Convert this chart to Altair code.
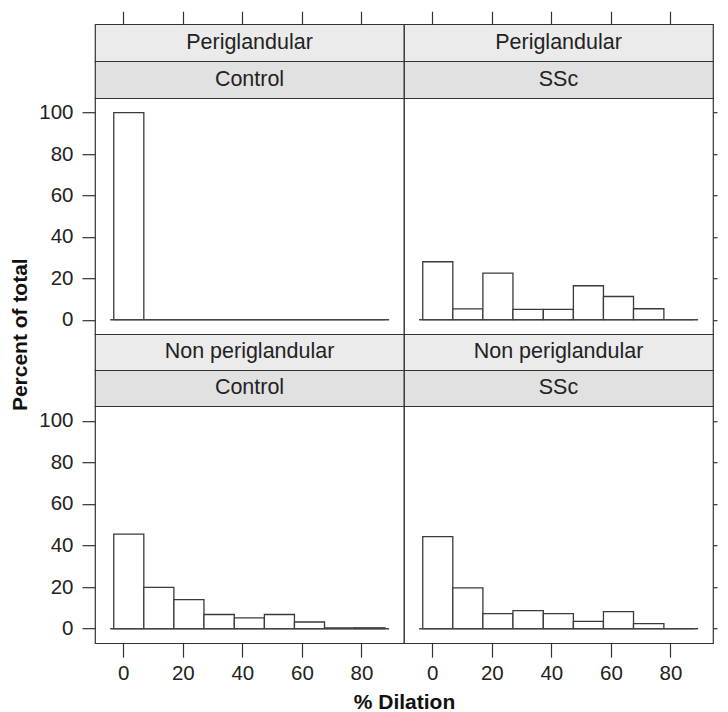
import altair as alt
import pandas as pd

# ---- data ----
row_labels = ["Periglandular", "Non periglandular"]
col_labels = ["Control", "SSc"]
breaks = [-3.2, 6.9, 17.0, 27.1, 37.3, 47.4, 57.5, 67.6, 77.8, 87.9]
pct_peri_control = [100.0, 0, 0, 0, 0, 0, 0, 0, 0]
pct_peri_ssc = [28.0, 5.2, 22.5, 5.0, 5.0, 16.4, 11.2, 5.3, 0]
pct_non_control = [45.5, 19.8, 14.0, 6.8, 5.2, 6.8, 3.2, 0.4, 0.4]
pct_non_ssc = [44.3, 19.6, 7.2, 8.7, 7.2, 3.5, 8.2, 2.4, 0]
baseline_span = [-4.4, 89.3]
x_ticks = [0, 20, 40, 60, 80]
y_ticks = [0, 20, 40, 60, 80, 100]
x_domain = [-9.5, 94.3]
y_domain = [-7, 107]
x_title = "% Dilation"
y_title = "Percent of total"

panel_values = [[pct_peri_control, pct_peri_ssc], [pct_non_control, pct_non_ssc]]

# ---- styling ----
FONT = "Liberation Sans"
FS = 20.5
SFS = 21.5
TFS = 21
W = 309
STRIP_H = [[37, 37], [36, 36]]
PLOT_H = [236, 237]
FRAME = "#333333"
STRIP_FILLS = ["#ebebeb", "#e1e1e1"]

xs = alt.Scale(domain=x_domain, nice=False, zero=False)
ys = alt.Scale(domain=y_domain, nice=False, zero=False)
EXT = dict(minExtent=0, maxExtent=200, offset=0)


def strip(label, fill, h, top_axis):
    df = pd.DataFrame({"label": [label], "mid": [(x_domain[0] + x_domain[1]) / 2]})
    if top_axis:
        x = alt.X("mid:Q", scale=xs, title=None,
                  axis=alt.Axis(orient="top", values=x_ticks, labels=False,
                                tickSize=13, domain=False, grid=False, **EXT))
    else:
        x = alt.value(W / 2)
    return alt.Chart(df).mark_text(font=FONT, fontSize=SFS, color="#222222").encode(
        x=x, y=alt.value(h / 2), text="label:N"
    ).properties(width=W, height=h,
                 view=alt.ViewBackground(fill=fill, stroke=FRAME, strokeWidth=1.2))


def plot(pcts, r, c):
    ph = PLOT_H[r]
    df = pd.DataFrame({"start": breaks[:-1], "end": breaks[1:], "pct": pcts})
    bdf = pd.DataFrame({"a": [baseline_span[0]], "b": [baseline_span[1]]})
    if r == 1:
        if c == 0:
            xaxis = alt.Axis(orient="bottom", values=x_ticks, tickSize=14, labelPadding=6,
                             titleX=W, titleY=65, titleBaseline="alphabetic",
                             titleAlign="center", titleFontSize=TFS, titleFontWeight="bold",
                             **EXT)
            xt = x_title
        else:
            xaxis = alt.Axis(orient="bottom", values=x_ticks, tickSize=14, labelPadding=6,
                             **EXT)
            xt = None
        xenc = alt.X("start:Q", scale=xs, axis=xaxis, title=xt)
        xrule = alt.X("a:Q", scale=xs, axis=xaxis, title=xt)
    else:
        xenc = alt.X("start:Q", scale=xs, axis=None)
        xrule = alt.X("a:Q", scale=xs, axis=None)
    if c == 0:
        if r == 0:
            yaxis = alt.Axis(orient="left", values=y_ticks, tickSize=13, labelPadding=9,
                             titleAngle=270, titleX=-69, titleY=ph,
                             titleBaseline="alphabetic", titleAlign="center",
                             titleFontSize=TFS, titleFontWeight="bold", **EXT)
            yt = y_title
        else:
            yaxis = alt.Axis(orient="left", values=y_ticks, tickSize=13, labelPadding=9,
                             **EXT)
            yt = None
    else:
        yaxis = alt.Axis(orient="right", values=y_ticks, tickSize=4, labels=False, **EXT)
        yt = None
    bars = alt.Chart(df).mark_rect(fill="white", stroke="#3a3a3a", strokeWidth=1.3).encode(
        x=xenc, x2="end:Q",
        y=alt.Y("pct:Q", scale=ys, axis=yaxis, title=yt), y2=alt.datum(0)
    )
    base = alt.Chart(bdf).mark_rule(color="#444444", strokeWidth=1.5).encode(
        x=xrule, x2="b:Q", y=alt.datum(0)
    )
    return alt.layer(bars, base).properties(
        width=W, height=ph,
        view=alt.ViewBackground(fill="white", stroke=FRAME, strokeWidth=1.2))


cells = []
for r in range(2):
    cells += [strip(row_labels[r], STRIP_FILLS[0], STRIP_H[r][0], r == 0) for c in range(2)]
    cells += [strip(col_labels[c], STRIP_FILLS[1], STRIP_H[r][1], False) for c in range(2)]
    cells += [plot(panel_values[r][c], r, c) for c in range(2)]

chart = alt.concat(*cells, columns=2, spacing=0, bounds="flush").properties(
    padding={"left": 0, "top": 1.2, "right": 0, "bottom": 0}
).configure(font=FONT).configure_axis(
    domain=False, grid=False, tickColor="#333333", tickWidth=1.2,
    labelFont=FONT, labelFontSize=FS, labelColor="#222222",
    titleFont=FONT, titleColor="#111111", minExtent=0
)

chart.save("out.html", embed_options={"renderer": "svg", "actions": False})
